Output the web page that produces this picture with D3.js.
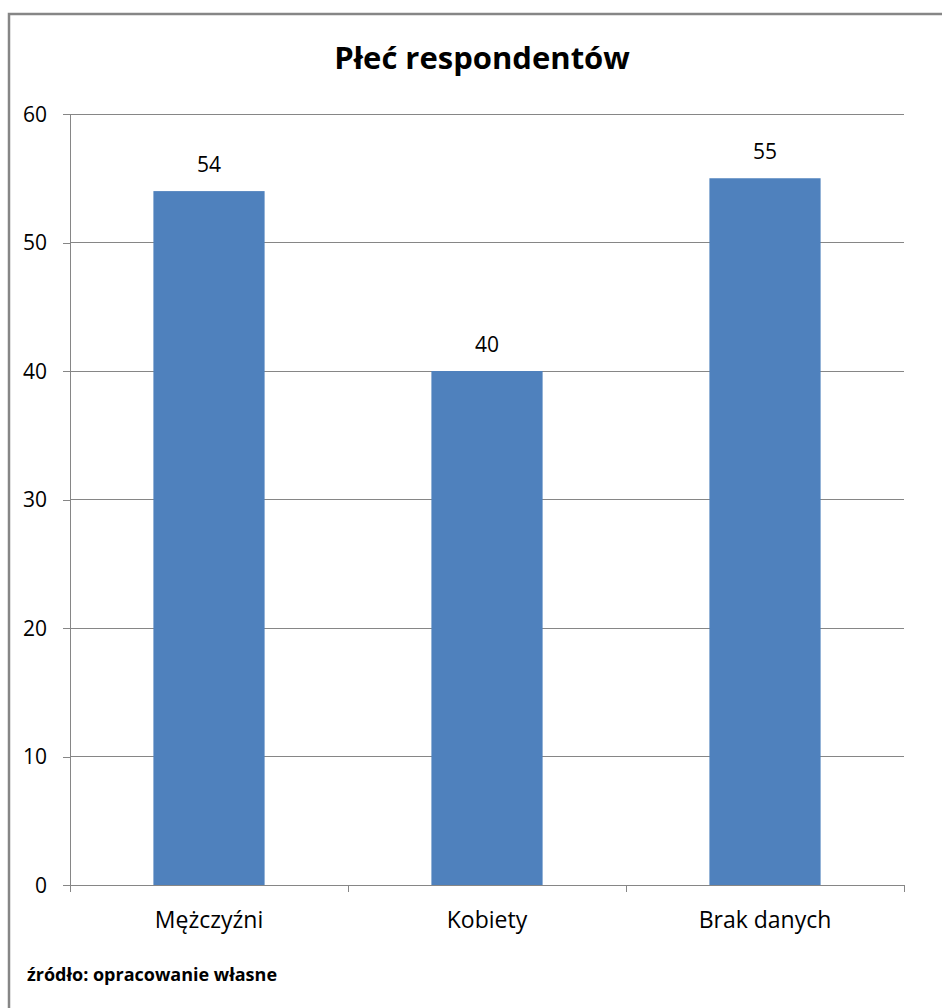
<!DOCTYPE html>
<html>
<head>
<meta charset="utf-8">
<script src="https://cdn.jsdelivr.net/npm/d3@7"></script>
<style>
html,body{margin:0;padding:0;background:#fff;}
svg{display:block;}
text{font-family:"Open Sans","Liberation Sans",sans-serif;fill:#000;}
</style>
</head>
<body>
<svg id="chart" width="942" height="1008"></svg>
<script>
const categories = ["Mężczyźni", "Kobiety", "Brak danych"];
const values = [54, 40, 55];
const yTicks = [0, 10, 20, 30, 40, 50, 60];
const title = "Płeć respondentów";
const source = "źródło: opracowanie własne";

const svg = d3.select("#chart");
const W = 942, H = 1008;
const plot = {left: 70, right: 904, top: 114, bottom: 885};
const FONT = '"Open Sans", sans-serif';

// frame
svg.append("path")
  .attr("d", `M9,${H} L9,14 L${W},14`)
  .attr("fill", "none").attr("stroke", "#868686").attr("stroke-width", 2.5);

const x = d3.scaleBand().domain(categories).range([plot.left, plot.right])
  .paddingInner(0.6).paddingOuter(0.3);
const xCat = d3.scaleBand().domain(categories).range([plot.left, plot.right]).padding(0);
const y = d3.scaleLinear().domain([0, 60]).range([plot.bottom, plot.top]);

// gridlines
svg.append("g").selectAll("line").data(yTicks.filter(d => d > 0)).join("line")
  .attr("x1", plot.left).attr("x2", plot.right)
  .attr("y1", d => y(d)).attr("y2", d => y(d))
  .attr("stroke", "#868686").attr("stroke-width", 1).attr("shape-rendering", "crispEdges");

// bars
svg.append("g").selectAll("rect").data(values).join("rect")
  .attr("x", (d, i) => x(categories[i]))
  .attr("width", x.bandwidth())
  .attr("y", d => y(d))
  .attr("height", d => y(0) - y(d))
  .attr("fill", "#4F81BD");

// value labels
svg.append("g").selectAll("text").data(values).join("text")
  .attr("x", (d, i) => x(categories[i]) + x.bandwidth() / 2)
  .attr("y", d => y(d) - 19)
  .attr("text-anchor", "middle")
  .attr("font-size", 21)
  .text(d => d);

// y axis
const yAxis = d3.axisLeft(y).tickValues(yTicks).tickSize(7).tickPadding(16).tickFormat(d3.format("d"));
const gy = svg.append("g").attr("transform", `translate(${plot.left},0)`).call(yAxis);
gy.select(".domain").attr("stroke", "#868686").attr("shape-rendering", "crispEdges");
gy.selectAll(".tick line").attr("stroke", "#868686").attr("shape-rendering", "crispEdges");
gy.selectAll(".tick text").attr("font-size", 21).attr("font-family", FONT).attr("fill", "#000").attr("dy", "0.35em");

// x axis
const gx = svg.append("g").attr("transform", `translate(0,${plot.bottom})`);
gx.append("line").attr("x1", plot.left).attr("x2", plot.right).attr("y1", 0).attr("y2", 0)
  .attr("stroke", "#868686").attr("shape-rendering", "crispEdges");
const bounds = categories.map(c => xCat(c)).concat([plot.right]);
gx.selectAll("line.tk").data(bounds).join("line").attr("class", "tk")
  .attr("x1", d => d).attr("x2", d => d).attr("y1", 0).attr("y2", 7)
  .attr("stroke", "#868686").attr("shape-rendering", "crispEdges");
gx.selectAll("text").data(categories).join("text")
  .attr("x", d => xCat(d) + xCat.bandwidth() / 2)
  .attr("y", 43)
  .attr("text-anchor", "middle")
  .attr("font-size", 23)
  .text(d => d);

// title
svg.append("text").attr("x", 482).attr("y", 69).attr("text-anchor", "middle")
  .attr("font-size", 31).attr("font-weight", "bold").text(title);

// source
svg.append("text").attr("x", 27).attr("y", 981)
  .attr("font-size", 18).attr("font-weight", "bold").text(source);
</script>
</body>
</html>
